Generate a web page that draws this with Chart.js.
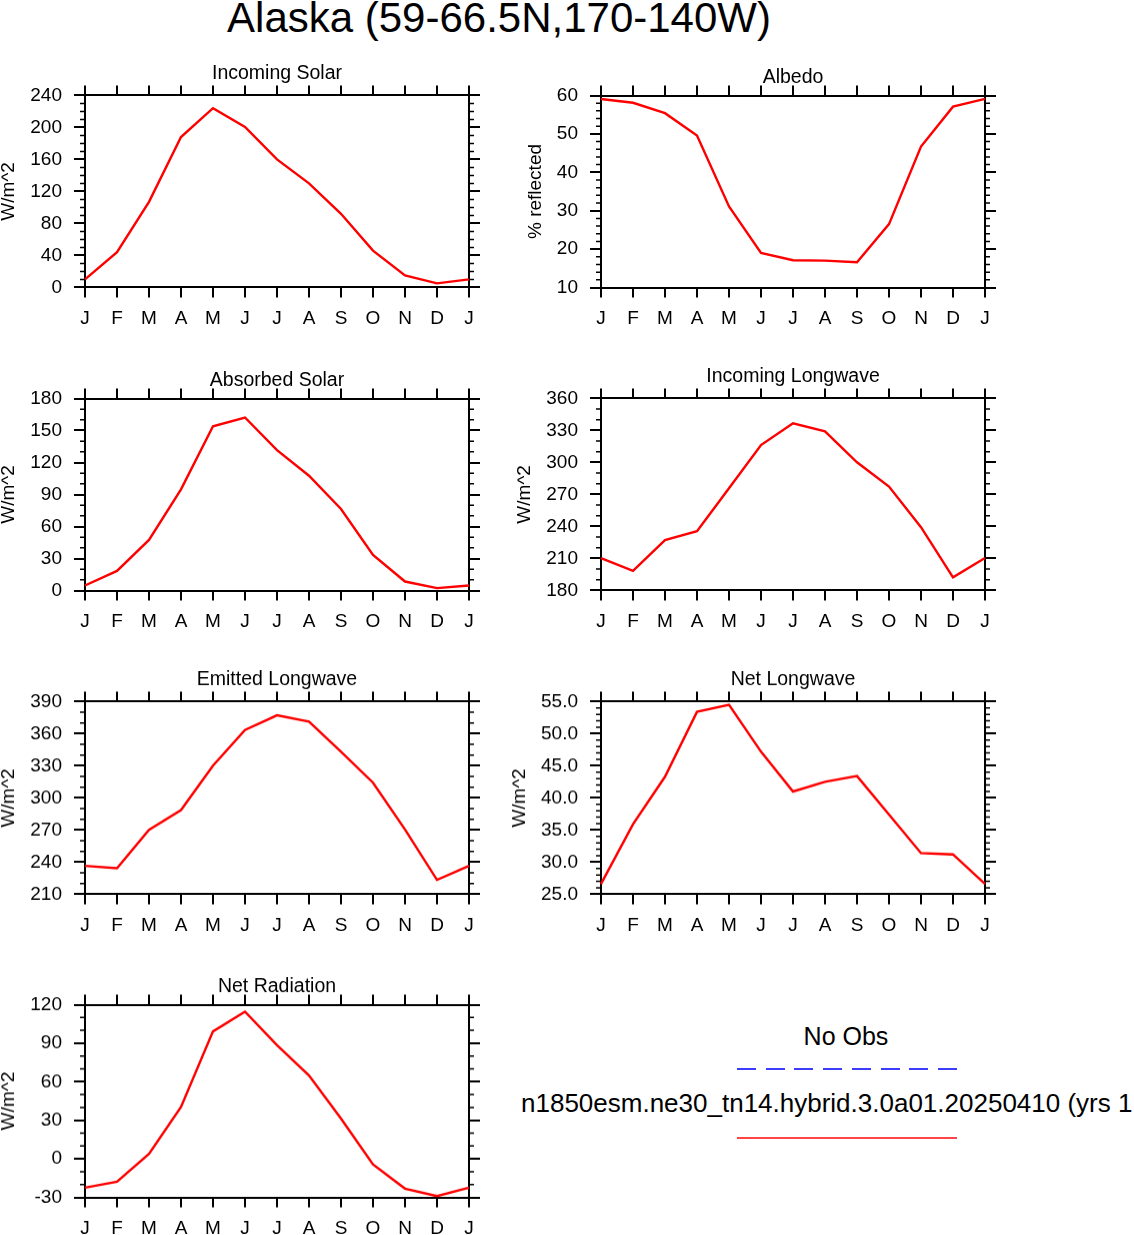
<!DOCTYPE html>
<html>
<head>
<meta charset="utf-8">
<script src="https://cdn.jsdelivr.net/npm/chart.js@4.4.1/dist/chart.umd.min.js"></script>
<style>
html, body { margin: 0; padding: 0; background: #fff; overflow: hidden; }
body { width: 1134px; height: 1235px; position: relative; font-family: "Liberation Sans", Arial, sans-serif; }
.panel { position: absolute; }
.txt { position: absolute; white-space: nowrap; color: #000; }
</style>
</head>
<body>
<div class="txt" style="left:0;width:998px;text-align:center;top:-3.5px;font-size:42px;line-height:42px;">Alaska (59-66.5N,170-140W)</div>

<div class="panel" id="p-incoming-solar"><canvas id="incoming-solar"></canvas></div>
<div class="panel" id="p-albedo"><canvas id="albedo"></canvas></div>
<div class="panel" id="p-absorbed-solar"><canvas id="absorbed-solar"></canvas></div>
<div class="panel" id="p-incoming-lw"><canvas id="incoming-lw"></canvas></div>
<div class="panel" id="p-emitted-lw"><canvas id="emitted-lw"></canvas></div>
<div class="panel" id="p-net-lw"><canvas id="net-lw"></canvas></div>
<div class="panel" id="p-net-rad"><canvas id="net-rad"></canvas></div>

<div class="txt" style="left:746px;width:200px;text-align:center;top:1023.8px;font-size:25px;line-height:25px;">No Obs</div>
<div style="position:absolute;left:737px;top:1068px;width:220px;height:2px;background:repeating-linear-gradient(to right,#3c3cff 0,#3c3cff 19px,transparent 19px,transparent 28.7px);"></div>
<div class="txt" style="left:521px;top:1090px;font-size:26px;line-height:26px;">n1850esm.ne30_tn14.hybrid.3.0a01.20250410 (yrs 1</div>
<div style="position:absolute;left:737px;top:1137px;width:220px;height:2px;background:#ff4545;"></div>

<script>
Chart.defaults.font.family = '"Liberation Sans", Arial, sans-serif';
Chart.defaults.color = '#000';

var months = ['J', 'F', 'M', 'A', 'M', 'J', 'J', 'A', 'S', 'O', 'N', 'D', 'J'];

var incoming_solar = [10, 44, 107, 188, 224, 200.5, 160, 130, 92, 46, 15, 5, 10];
var albedo = [59.1, 58.1, 55.4, 49.6, 31.1, 19.0, 17.1, 17.0, 16.6, 26.5, 46.7, 57.1, 59.1];
var absorbed_solar = [4.7, 18.4, 47.4, 94.8, 154, 162.2, 131.6, 107.6, 76.4, 33.4, 8.4, 2.2, 4.7];
var incoming_lw = [210.3, 198.4, 227.1, 235.5, 275.8, 316.3, 336.6, 329.1, 300.1, 277.3, 239.3, 192.2, 210.3];
var emitted_lw = [236.5, 234.3, 270.2, 288.6, 330.1, 363.5, 377.2, 371.3, 343.2, 314.2, 270.5, 223.4, 236.5];
var net_lw = [26.6, 35.9, 43.3, 53.4, 54.5, 47.2, 41.0, 42.5, 43.4, 37.4, 31.4, 31.2, 26.6];
var net_rad = [-22.5, -17.8, 3.8, 40.4, 99.2, 114.5, 88.5, 64.9, 31.3, -4.3, -23.2, -29, -22.5];

// axis ranges: [min, max, major step, minor step, decimals]
var incoming_solar_axis = [0, 240, 40, 10, 0];
var albedo_axis = [10, 60, 10, 2, 0];
var absorbed_solar_axis = [0, 180, 30, 10, 0];
var incoming_lw_axis = [180, 360, 30, 10, 0];
var emitted_lw_axis = [210, 390, 30, 10, 0];
var net_lw_axis = [25, 55, 5, 1, 1];
var net_rad_axis = [-30, 120, 30, 10, 0];

var plot_tops = [95, 398.3, 701.6, 1004.9];
var col_lefts = [0, 506];
var col_axis_w = [85, 95];
var plot_h = 192;

// ytitle_x is the page x of the rotated axis title centre
var panels = [
    {id: 'incoming-solar', title: 'Incoming Solar', ytitle: 'W/m^2', data: incoming_solar, axis: incoming_solar_axis, col: 0, row: 0, desc: true, ytitle_x: 8.5},
    {id: 'albedo', title: 'Albedo', ytitle: '% reflected', data: albedo, axis: albedo_axis, col: 1, row: 0, desc: false, ytitle_x: 535.5},
    {id: 'absorbed-solar', title: 'Absorbed Solar', ytitle: 'W/m^2', data: absorbed_solar, axis: absorbed_solar_axis, col: 0, row: 1, desc: false, ytitle_x: 8.5},
    {id: 'incoming-lw', title: 'Incoming Longwave', ytitle: 'W/m^2', data: incoming_lw, axis: incoming_lw_axis, col: 1, row: 1, desc: true, ytitle_x: 525},
    {id: 'emitted-lw', title: 'Emitted Longwave', ytitle: 'W/m^2', data: emitted_lw, axis: emitted_lw_axis, col: 0, row: 2, desc: true, ytitle_x: 8.5},
    {id: 'net-lw', title: 'Net Longwave', ytitle: 'W/m^2', data: net_lw, axis: net_lw_axis, col: 1, row: 2, desc: true, ytitle_x: 519.5},
    {id: 'net-rad', title: 'Net Radiation', ytitle: 'W/m^2', data: net_rad, axis: net_rad_axis, col: 0, row: 3, desc: false, ytitle_x: 8.5}
];

// NCL style minor ticks on both y sides
var minor_ticks = {
    id: 'minorTicks',
    afterDraw: function (chart, args, opts) {
        var ctx = chart.ctx;
        var y = chart.scales.y;
        var area = chart.chartArea;
        var n = Math.round((opts.max - opts.min) / opts.minor);
        var every = Math.round(opts.major / opts.minor);
        ctx.save();
        ctx.strokeStyle = '#000';
        ctx.lineWidth = 1.5;
        ctx.beginPath();
        for (var i = 0; i <= n; i++) {
            if (i % every == 0) continue;
            var py = y.getPixelForValue(opts.min + i * opts.minor);
            ctx.moveTo(area.left - 5, py);
            ctx.lineTo(area.left, py);
            ctx.moveTo(area.right, py);
            ctx.lineTo(area.right + 5, py);
        }
        ctx.stroke();
        ctx.restore();
    }
};

function tick_grid(len) {
    return {drawOnChartArea: false, drawTicks: true, tickLength: len, color: '#000', lineWidth: 2};
}
var axis_border = {display: true, color: '#000', width: 2};

panels.forEach(function (p) {
    var pb = p.desc ? 10 : 6.1;
    var off_top = 2 + 19.5 * 1.2 + pb;
    var left_w = col_axis_w[p.col];
    var box = document.getElementById('p-' + p.id);
    box.style.left = col_lefts[p.col] + 'px';
    box.style.top = (plot_tops[p.row] - off_top) + 'px';
    box.style.width = (left_w + 384 + 21) + 'px';
    box.style.height = (off_top + plot_h + 45) + 'px';

    var a = p.axis;
    var ctx = document.getElementById(p.id).getContext('2d');
    new Chart(ctx, {
        type: 'line',
        data: {
            labels: months,
            datasets: [{
                data: p.data,
                borderColor: '#ff0000',
                borderWidth: 2.4,
                pointRadius: 0,
                tension: 0,
                fill: false
            }]
        },
        plugins: [minor_ticks],
        options: {
            responsive: true,
            maintainAspectRatio: false,
            animation: false,
            layout: {padding: 0},
            plugins: {
                legend: {display: false},
                tooltip: {enabled: false},
                title: {
                    display: true,
                    text: p.title,
                    color: '#000',
                    fullSize: false,
                    font: {size: 19.5, weight: 'normal', lineHeight: 1.2},
                    padding: {top: 2, bottom: pb}
                },
                minorTicks: {min: a[0], max: a[1], major: a[2], minor: a[3]}
            },
            scales: {
                x: {
                    type: 'category',
                    position: 'bottom',
                    offset: false,
                    grid: tick_grid(10),
                    border: axis_border,
                    ticks: {color: '#000', font: {size: 19}, padding: 10, autoSkip: false, maxRotation: 0},
                    afterFit: function (s) { s.height = 45; }
                },
                x2: {
                    type: 'category',
                    position: 'top',
                    offset: false,
                    grid: tick_grid(10),
                    border: axis_border,
                    ticks: {display: false},
                    afterFit: function (s) { s.height = 0; }
                },
                y: {
                    type: 'linear',
                    position: 'left',
                    min: a[0],
                    max: a[1],
                    grid: tick_grid(11),
                    border: axis_border,
                    ticks: {
                        stepSize: a[2],
                        color: '#000',
                        font: {size: 19},
                        padding: 12,
                        callback: function (v) { return v.toFixed(a[4]); }
                    },
                    title: {
                        display: true,
                        text: p.ytitle,
                        color: '#000',
                        font: {size: 19, lineHeight: 1},
                        padding: {top: p.ytitle_x - col_lefts[p.col] - 9.5, bottom: 0}
                    },
                    afterFit: function (s) { s.width = left_w; }
                },
                y2: {
                    type: 'linear',
                    position: 'right',
                    min: a[0],
                    max: a[1],
                    grid: tick_grid(11),
                    border: axis_border,
                    ticks: {stepSize: a[2], display: false},
                    afterFit: function (s) { s.width = 21; }
                }
            }
        }
    });
});
</script>
</body>
</html>
